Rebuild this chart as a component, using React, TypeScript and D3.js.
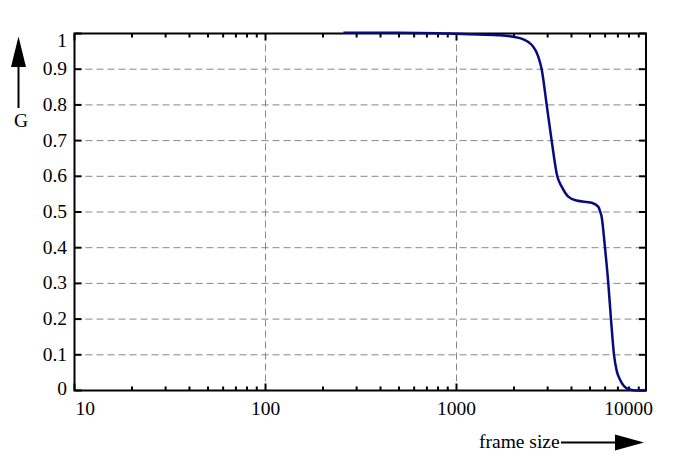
import React from 'react';
import * as d3 from 'd3';

// frame size vs G
const frameSize = [256, 500, 800, 1000, 1300, 1690, 2150, 2523, 2680, 2792, 2966, 3149, 3370, 3555, 3848, 4258, 5100, 5520, 5660, 5750, 5990, 6233, 6438, 6678, 6900, 7182, 7789, 8400, 9140, 9820];
const gValue = [1.002, 1.002, 1.001, 0.999, 0.997, 0.995, 0.987, 0.963, 0.935, 0.9, 0.8, 0.7, 0.6, 0.571, 0.543, 0.532, 0.526, 0.515, 0.5, 0.487, 0.4, 0.3, 0.2, 0.1, 0.055, 0.03, 0.006, 0.001, 0, 0];

const xTickValues = [10, 100, 1000, 10000];
const xTickLabels = ['10', '100', '1000', '10000'];
const yTickValues = [0, 0.1, 0.2, 0.3, 0.4, 0.5, 0.6, 0.7, 0.8, 0.9, 1];
const yTickLabels = ['0', '0.1', '0.2', '0.3', '0.4', '0.5', '0.6', '0.7', '0.8', '0.9', '1'];

const W = 698;
const H = 461;
const left = 74.5;
const right = 646;
const top = 33.5;
const bottom = 390.5;
const font = '"Liberation Serif", "DejaVu Serif", serif';
const fs = 19.5;

const App: React.FC = () => {
  const x = d3.scaleLog().domain([10, 9820]).range([left, right]);
  const y = d3.scaleLinear().domain([0, 1]).range([bottom, top]);

  const pts = frameSize.map((f, i) => [f, gValue[i]] as [number, number]);
  const line = d3.line<[number, number]>()
    .x(d => x(d[0]))
    .y(d => y(d[1]))
    .curve(d3.curveMonotoneX);

  // minor log ticks 20..90, 200..900, ...
  const minor: number[] = [];
  [10, 100, 1000].forEach(dec => {
    for (let k = 2; k <= 9; k++) if (dec * k <= 9820) minor.push(dec * k);
  });

  return (
    <svg width={W} height={H} style={{ position: 'absolute', left: 0, top: 0, background: '#fff' }}>
      {/* grid */}
      {yTickValues.filter(v => v > 0 && v < 1).map(v => (
        <line key={'gy' + v} x1={left} x2={right} y1={y(v)} y2={y(v)} stroke="#888" strokeWidth={1} strokeDasharray="7,4" />
      ))}
      {xTickValues.filter(v => v > 10 && v < 9820).map(v => (
        <line key={'gx' + v} x1={x(v)} x2={x(v)} y1={top} y2={bottom} stroke="#888" strokeWidth={1} strokeDasharray="7,4" />
      ))}

      {/* ticks */}
      {yTickValues.map(v => (
        <g key={'ty' + v}>
          <line x1={left} x2={left + 7} y1={y(v)} y2={y(v)} stroke="#000" strokeWidth={2} />
          <line x1={right - 7} x2={right} y1={y(v)} y2={y(v)} stroke="#000" strokeWidth={2} />
        </g>
      ))}
      {xTickValues.filter(v => v < 9820).map(v => (
        <g key={'tx' + v}>
          <line x1={x(v)} x2={x(v)} y1={bottom} y2={bottom - 7} stroke="#000" strokeWidth={2} />
          <line x1={x(v)} x2={x(v)} y1={top} y2={top + 7} stroke="#000" strokeWidth={2} />
        </g>
      ))}
      {minor.map(v => (
        <g key={'mx' + v}>
          <line x1={x(v)} x2={x(v)} y1={bottom} y2={bottom - 4} stroke="#000" strokeWidth={2} />
          <line x1={x(v)} x2={x(v)} y1={top} y2={top + 4} stroke="#000" strokeWidth={2} />
        </g>
      ))}

      {/* frame */}
      <rect x={left} y={top} width={right - left} height={bottom - top} fill="none" stroke="#000" strokeWidth={2} />

      {/* curve, drawn over the frame */}
      <path d={line(pts) || ''} fill="none" stroke="#0a0a80" strokeWidth={2.5} />

      {/* tick labels */}
      {yTickValues.map((v, i) => {
        let dy = 6;
        if (v === 1) dy = 13.5;
        if (v === 0) dy = 4.5;
        return (
          <text key={'ly' + v} x={67} y={y(v) + dy} textAnchor="end" fontFamily={font} fontSize={fs} fill="#000">
            {yTickLabels[i]}
          </text>
        );
      })}
      {xTickValues.map((v, i) => {
        let px = x(v);
        let anchor: 'start' | 'middle' | 'end' = 'middle';
        if (i === 0) { px = left + 1; anchor = 'start'; }
        if (i === xTickValues.length - 1) { px = right + 7; anchor = 'end'; }
        return (
          <text key={'lx' + v} x={px} y={415} textAnchor={anchor} fontFamily={font} fontSize={fs} fill="#000">
            {xTickLabels[i]}
          </text>
        );
      })}

      {/* y axis title with arrow */}
      <line x1={18.5} x2={18.5} y1={108} y2={60} stroke="#000" strokeWidth={2} />
      <path d="M18.5,36.5 L26,67 L11,67 Z" fill="#000" />
      <text x={21} y={127} textAnchor="middle" fontFamily={font} fontSize={fs} fill="#000">G</text>

      {/* x axis title with arrow */}
      <text x={479} y={448} fontFamily={font} fontSize={fs} fill="#000">frame size</text>
      <line x1={561} x2={620} y1={442.5} y2={442.5} stroke="#000" strokeWidth={2} />
      <path d="M644,442.5 L615,434.5 L615,450.5 Z" fill="#000" />
    </svg>
  );
};

export default App;
